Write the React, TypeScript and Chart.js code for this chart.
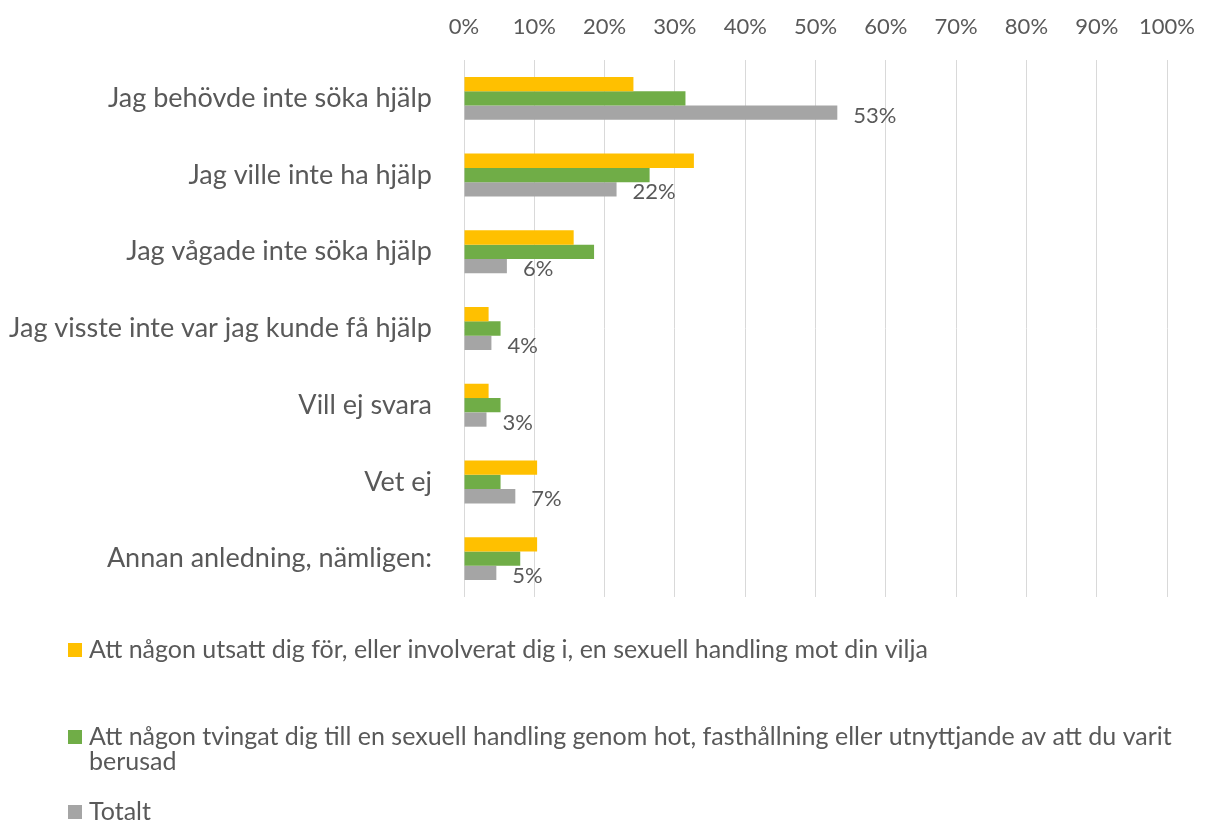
import React, { useEffect, useRef } from "react";
import { Chart, registerables } from "chart.js";

Chart.register(...registerables);

const categories = [
  "Jag behövde inte söka hjälp",
  "Jag ville inte ha hjälp",
  "Jag vågade inte söka hjälp",
  "Jag visste inte var jag kunde få hjälp",
  "Vill ej svara",
  "Vet ej",
  "Annan anledning, nämligen:",
];

const seriesNames = [
  "Att någon utsatt dig för, eller involverat dig i, en sexuell handling mot din vilja",
  "Att någon tvingat dig till en sexuell handling genom hot, fasthållning eller utnyttjande av att du varit berusad",
  "Totalt",
];

const utsatt = [24.1, 32.7, 15.6, 3.5, 3.5, 10.4, 10.4];
const tvingat = [31.5, 26.4, 18.5, 5.2, 5.2, 5.2, 8.0];
const totalt = [53.1, 21.7, 6.1, 3.9, 3.2, 7.3, 4.6];
const totaltLabels = ["53%", "22%", "6%", "4%", "3%", "7%", "5%"];

const xTicks = [0, 10, 20, 30, 40, 50, 60, 70, 80, 90, 100];

const colors = ["#FFC000", "#70AD47", "#A5A5A5"];
const FONT = "Lato";
const TEXT = "#595959";

const labelPlugin = {
  id: "totalLabels",
  afterDatasetsDraw(chart: any) {
    const meta = chart.getDatasetMeta(2);
    const ctx = chart.ctx;
    ctx.save();
    ctx.font = `22px ${FONT}`;
    ctx.fillStyle = TEXT;
    ctx.textAlign = "left";
    ctx.textBaseline = "middle";
    meta.data.forEach((bar: any, i: number) => {
      ctx.fillText(totaltLabels[i], bar.x + 16, bar.y + 3);
    });
    ctx.restore();
  },
};

const legendPlugin = {
  id: "wrapLegend",
  afterDraw(chart: any) {
    const ctx = chart.ctx;
    const bottom = chart.chartArea.bottom;
    const ys = [bottom + 53, bottom + 140, bottom + 215];
    const maxW = 1110;
    const lineH = 25;
    ctx.save();
    ctx.font = `25px ${FONT}`;
    ctx.textBaseline = "middle";
    ctx.textAlign = "left";
    seriesNames.forEach((name, i) => {
      const y = ys[i];
      ctx.fillStyle = colors[i];
      ctx.fillRect(68, y - 7, 14, 14);
      ctx.fillStyle = TEXT;
      const words = name.split(" ");
      let line = "";
      let ly = y;
      words.forEach((w) => {
        const test = line ? line + " " + w : w;
        if (ctx.measureText(test).width > maxW && line) {
          ctx.fillText(line, 89, ly);
          line = w;
          ly += lineH;
        } else {
          line = test;
        }
      });
      if (line) ctx.fillText(line, 89, ly);
    });
    ctx.restore();
  },
};

export default function App() {
  const ref = useRef<HTMLCanvasElement>(null);
  useEffect(() => {
    document.body.style.margin = "0";
    const chart = new Chart(ref.current as HTMLCanvasElement, {
      type: "bar",
      data: {
        labels: categories,
        datasets: [
          { label: seriesNames[0], data: utsatt, backgroundColor: colors[0] },
          { label: seriesNames[1], data: tvingat, backgroundColor: colors[1] },
          { label: seriesNames[2], data: totalt, backgroundColor: colors[2] },
        ],
      },
      options: {
        indexAxis: "y",
        animation: false,
        responsive: false,
        maintainAspectRatio: false,
        layout: { padding: { left: 0, right: 39, top: 0, bottom: 225 } },
        datasets: {
          bar: { barPercentage: 1, categoryPercentage: 0.56 },
        },
        plugins: {
          legend: { display: false },
          tooltip: { enabled: false },
        },
        scales: {
          x: {
            position: "top",
            min: 0,
            max: 100,
            afterBuildTicks(scale: any) {
              scale.ticks = xTicks.map((v) => ({ value: v }));
            },
            afterFit(scale: any) {
              scale.height = 60;
            },
            ticks: {
              padding: 20,
              color: TEXT,
              font: { family: FONT, size: 22 },
              callback: (v: any) => `${v}%`,
            },
            grid: { color: "#D9D9D9", lineWidth: 1, drawTicks: false },
            border: { display: false },
          },
          y: {
            afterFit(scale: any) {
              scale.width = 464;
            },
            ticks: {
              padding: 24,
              color: TEXT,
              font: { family: FONT, size: 27 },
            },
            grid: { display: false },
            border: { display: false },
          },
        },
      },
      plugins: [labelPlugin, legendPlugin],
    });
    return () => chart.destroy();
  }, []);
  return <canvas ref={ref} width={1215} height={822} style={{ display: "block" }} />;
}
